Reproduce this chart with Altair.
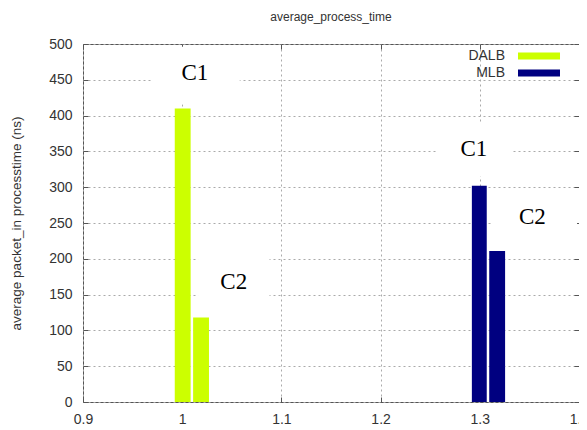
import altair as alt
import pandas as pd

# ---- data ----
series = ["DALB", "DALB", "MLB", "MLB"]
cluster = ["C1", "C2", "C1", "C2"]
x_left = [0.9925, 1.011, 1.292, 1.3095]
x_right = [1.0085, 1.027, 1.307, 1.3255]
values = [410, 118, 302, 211]

label_text = ["C1", "C2", "C1", "C2"]
label_x = [1.0127, 1.052, 1.294, 1.353]
label_y = [460, 168, 354, 258]

# white label backgrounds (data units)
box_x1 = [0.970, 1.016, 1.257, 1.313]
box_x2 = [1.058, 1.088, 1.333, 1.398]
box_y1 = [416, 130, 315, 213]
box_y2 = [496, 228, 390, 290]

x_ticks = [0.9, 1.0, 1.1, 1.2, 1.3, 1.4]
y_ticks = [0, 50, 100, 150, 200, 250, 300, 350, 400, 450, 500]

bars = pd.DataFrame({"series": series, "cluster": cluster, "x1": x_left,
                     "x2": x_right, "value": values})
labels = pd.DataFrame({"text": label_text, "x": label_x, "y": label_y})
boxes = pd.DataFrame({"x1": box_x1, "x2": box_x2, "y1": box_y1, "y2": box_y2})

xs = alt.Scale(domain=[0.9, 1.4], nice=False, zero=False)
ys = alt.Scale(domain=[0, 500], nice=False)

FONT = "Liberation Sans"
TXT = "#333333"
GRID = "#aaaaaa"

main_x = alt.Axis(values=x_ticks, format="~g", grid=True, gridDash=[2, 3],
                  gridColor=GRID, ticks=False, domain=False,
                  labelPadding=10, labelFontSize=14, labelFont=FONT,
                  labelColor=TXT, title=None, labelFlush=False)
main_y = alt.Axis(values=y_ticks, grid=True, gridDash=[2, 3],
                  gridColor=GRID, ticks=False, domain=False,
                  labelPadding=11, labelFontSize=14, labelFont=FONT,
                  labelColor=TXT, title="average packet_in processtime (ns)",
                  titleFont=FONT, titleFontSize=13.5, titleFontWeight="normal",
                  titleColor=TXT, titlePadding=25)


def tick_axis(orient):
    return alt.Axis(orient=orient, offset=-5, tickSize=5, tickColor="#555555",
                    labels=False, domain=False, grid=False, title=None,
                    values=x_ticks if orient in ("top", "bottom") else y_ticks)


box_layer = alt.Chart(boxes).mark_rect(color="white").encode(
    x=alt.X("x1:Q", scale=xs, axis=main_x),
    x2="x2:Q",
    y=alt.Y("y1:Q", scale=ys, axis=main_y),
    y2="y2:Q",
)

bar_layer = alt.Chart(bars).mark_rect().encode(
    x=alt.X("x1:Q", scale=xs, axis=tick_axis("top")),
    x2="x2:Q",
    y=alt.Y("value:Q", scale=ys, axis=tick_axis("right")),
    y2=alt.datum(0),
    color=alt.Color(
        "series:N",
        scale=alt.Scale(domain=["DALB", "MLB"], range=["#ccff00", "#000080"]),
        legend=alt.Legend(
            title=None, orient="none", legendX=408, legendY=5,
            symbolType="M2.857,-0.5H8.857V0.5H2.857Z", symbolSize=196,
            symbolStrokeWidth=0, labelAlign="right", labelOffset=0,
            labelFont=FONT, labelFontSize=14, labelColor=TXT,
            rowPadding=3, padding=0,
        ),
    ),
)

text_layer = alt.Chart(labels).mark_text(
    font="Liberation Serif", fontSize=23, color="black", baseline="middle",
    align="center",
).encode(
    x=alt.X("x:Q", scale=xs, axis=tick_axis("bottom")),
    y=alt.Y("y:Q", scale=ys, axis=tick_axis("left")),
    text="text:N",
)

chart = alt.layer(box_layer, bar_layer, text_layer).resolve_axis(
    x="independent", y="independent"
).properties(
    width=496,
    height=358,
    padding={"left": 75, "top": 36, "right": 0, "bottom": 26},
    autosize=alt.AutoSizeParams(type="none"),
    title=alt.TitleParams("average_process_time", font=FONT, fontSize=12,
                          fontWeight="normal", color=TXT, offset=13),
).configure_view(stroke="#555555", strokeWidth=1)

chart.save("out.html", embed_options={"renderer": "svg", "actions": False})
